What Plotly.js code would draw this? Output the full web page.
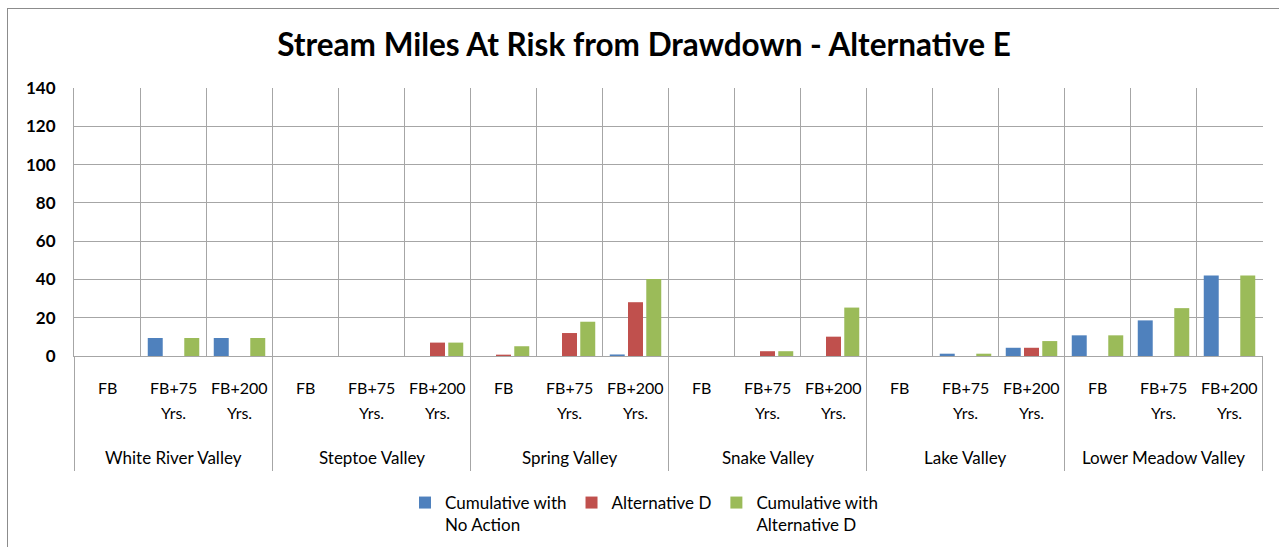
<!DOCTYPE html>
<html>
<head>
<meta charset="utf-8">
<script src="https://cdn.plot.ly/plotly-3.0.1.min.js"></script>
<style>
  html, body { margin: 0; padding: 0; background: #ffffff; overflow: hidden; }
  #frame { position: absolute; left: 7px; top: 8px; width: 1400px; height: 700px;
           border-left: 1px solid #8c8c8c; border-top: 1px solid #8c8c8c; pointer-events: none; }
  #chart { position: absolute; left: 0; top: 0; width: 1279px; height: 547px; }
</style>
</head>
<body>
<div id="chart"></div>
<div id="frame"></div>
<script>
// Valleys and time horizons (two-level category axis)
const valleys = ["White River Valley", "Steptoe Valley", "Spring Valley",
                 "Snake Valley", "Lake Valley", "Lower Meadow Valley"];
const horizons = ["FB", "FB+75 Yrs.", "FB+200 Yrs."];

// Stream miles at risk, per valley in order FB, FB+75, FB+200
const noAction       = [0, 9.4, 9.4,   0, 0, 0,     0, 0, 0.8,       0, 0, 0,        0, 1.2, 4.3,   10.8, 18.6, 42.0];
const altD           = [0, 0, 0,       0, 0, 7.0,   0.7, 12.0, 28.1, 0, 2.5, 10.1,   0, 0, 4.3,     0, 0, 0];
const cumulativeAltD = [0, 9.4, 9.4,   0, 0, 7.0,   5.1, 17.9, 40.2, 0, 2.5, 25.3,   0, 1.2, 7.8,   10.8, 25.0, 42.0];

const seriesNames  = ["Cumulative with<br>No Action", "Alternative D", "Cumulative with<br>Alternative D"];
const seriesColors = ["#4F81BD", "#C0504D", "#9BBB59"];

// one category per valley / horizon pair
const keys = [];
valleys.forEach(v => horizons.forEach(h => keys.push(v + " | " + h)));

const font = "Lato, 'Open Sans', sans-serif";
const gridColor = "#a6a6a6";
const W = 1279, H = 547;

const traces = [noAction, altD, cumulativeAltD].map((vals, i) => ({
  type: "bar",
  name: seriesNames[i],
  x: keys,
  y: vals,
  marker: { color: seriesColors[i] }
}));

// plot-area geometry used to place the category labels below the axis
const plotTop = 88, plotBottom = 356;
const plotH = plotBottom - plotTop;
const below = px => -(px - plotBottom) / plotH;

const annotations = [];
const shapes = [];
keys.forEach((k, i) => {
  const h = horizons[i % horizons.length];
  const parts = h.split(" ");
  annotations.push({
    x: k, xref: "x", y: below(387), yref: "paper", yanchor: "middle",
    text: parts[0], showarrow: false,
    font: { family: font, size: 16, color: "#000000" }
  });
  if (parts[1]) {
    annotations.push({
      x: k, xref: "x", y: below(412), yref: "paper", yanchor: "middle",
      text: parts[1], showarrow: false,
      font: { family: font, size: 16, color: "#000000" }
    });
  }
});
valleys.forEach((v, j) => {
  const n = horizons.length;
  annotations.push({
    x: j * n + (n - 1) / 2, xref: "x", y: below(457), yref: "paper", yanchor: "middle",
    text: v, showarrow: false,
    font: { family: font, size: 17, color: "#000000" }
  });
});
for (let j = 0; j <= valleys.length; j++) {
  const xb = j * horizons.length - 0.5;
  shapes.push({
    type: "line", xref: "x", yref: "paper",
    x0: xb, x1: xb, y0: 0, y1: below(471),
    line: { color: gridColor, width: 1 }
  });
}

const layout = {
  width: W, height: H,
  margin: { l: 74, r: 16, t: plotTop, b: H - plotBottom },
  paper_bgcolor: "rgba(0,0,0,0)",
  plot_bgcolor: "#ffffff",
  barmode: "group",
  bargap: 0.17,
  bargroupgap: 0.18,
  title: {
    text: "<b>Stream Miles At Risk from Drawdown - Alternative E</b>",
    font: { family: font, size: 31.5, color: "#000000" },
    x: 644 / W, xanchor: "center", xref: "container",
    y: 1 - 45 / H, yanchor: "middle", yref: "container"
  },
  xaxis: {
    type: "category",
    tickson: "boundaries",
    showgrid: true, gridcolor: gridColor, gridwidth: 1,
    showline: true, linecolor: gridColor,
    showticklabels: false,
    ticks: "",
    fixedrange: true
  },
  yaxis: {
    range: [0, 140], dtick: 20,
    showgrid: true, gridcolor: gridColor, gridwidth: 1,
    showline: true, linecolor: gridColor,
    zeroline: false,
    ticks: "",
    ticklabelstandoff: 14,
    tickfont: { family: font, size: 17, color: "#000000", weight: "bold" },
    fixedrange: true
  },
  annotations: annotations,
  shapes: shapes,
  showlegend: true,
  legend: {
    orientation: "h",
    xref: "container", x: 405 / W, xanchor: "left",
    yref: "container", y: 1 - 485 / H, yanchor: "top",
    font: { family: font, size: 17, color: "#000000" },
    traceorder: "normal",
    valign: "top"
  }
};

Plotly.newPlot("chart", traces, layout, { displayModeBar: false, staticPlot: true });
</script>
</body>
</html>
